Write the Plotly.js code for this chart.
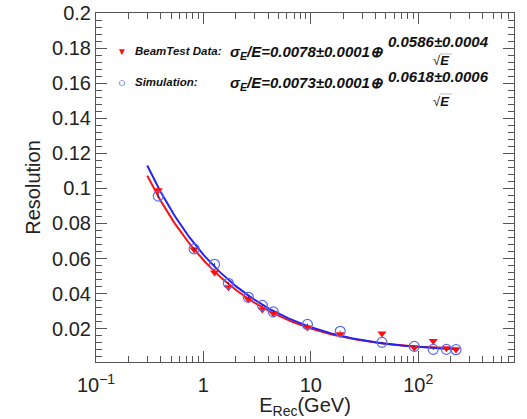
<!DOCTYPE html>
<html>
<head>
<meta charset="utf-8">
<script src="https://cdn.plot.ly/plotly-3.0.1.min.js"></script>
<style>
  html, body { margin: 0; padding: 0; background: #fff; }
  #chart { width: 527px; height: 419px; }
</style>
</head>
<body>
<div id="chart"></div>
<script>
// Beam energies (GeV) of the measured points
const energy = [0.38, 0.82, 1.27, 1.71, 2.62, 3.54, 4.48, 9.3, 18.8, 46, 92, 138, 183, 225];
// Relative energy resolution, beam test
const beamRes = [0.0989, 0.0652, 0.0521, 0.0436, 0.0368, 0.0310, 0.0287, 0.0207, 0.0168, 0.0172, 0.0091, 0.0130, 0.0089, 0.0081];
const beamErr = [0.0012, 0.0009, 0.0008, 0.0007, 0.0006, 0.0006, 0.0005, 0.0004, 0.0004, 0.0004, 0.0003, 0.0003, 0.0003, 0.0003];
// Relative energy resolution, simulation
const simRes = [0.0956, 0.0655, 0.0567, 0.0459, 0.0379, 0.0333, 0.0296, 0.0224, 0.0185, 0.0122, 0.0099, 0.0082, 0.0082, 0.0080];
const simErr = [0.0010, 0.0008, 0.0007, 0.0006, 0.0005, 0.0005, 0.0004, 0.0004, 0.0003, 0.0003, 0.0003, 0.0003, 0.0003, 0.0003];

// Fit parameters: sigma/E = c (+) a/sqrt(E)
const beamFit = { c: 0.0078, cErr: 0.0001, a: 0.0586, aErr: 0.0004 };
const simFit  = { c: 0.0073, cErr: 0.0001, a: 0.0618, aErr: 0.0006 };
const fitRange = [0.3, 240];

// Axis ticks
const xTickVals = [0.1, 1, 10, 100];
const xTickText = ['10<sup>\u22121</sup>', '1', '10', '10<sup>2</sup>'];

const RED = '#ff1010';
const BLUE = '#2424f0';
const FRAME = '#555555';

function fitCurve(p) {
  const xs = [], ys = [];
  const n = 200;
  const l0 = Math.log10(fitRange[0]), l1 = Math.log10(fitRange[1]);
  for (let i = 0; i <= n; i++) {
    const e = Math.pow(10, l0 + (l1 - l0) * i / n);
    xs.push(e);
    ys.push(Math.sqrt(p.c * p.c + p.a * p.a / e));
  }
  return { x: xs, y: ys };
}

const beamCurve = fitCurve(beamFit);
const simCurve = fitCurve(simFit);

const traces = [
  { x: beamCurve.x, y: beamCurve.y, mode: 'lines', line: { color: RED, width: 2 }, hoverinfo: 'skip' },
  { x: simCurve.x, y: simCurve.y, mode: 'lines', line: { color: BLUE, width: 2 }, hoverinfo: 'skip' },
  {
    x: energy, y: beamRes, mode: 'markers',
    error_y: { type: 'data', array: beamErr, color: '#a00000', thickness: 1, width: 0 },
    marker: { symbol: 'triangle-down', size: 8, color: RED }
  },
  {
    x: energy, y: simRes, mode: 'markers',
    error_y: { type: 'data', array: simErr, color: '#1a1a90', thickness: 1, width: 0 },
    marker: { symbol: 'circle-open', size: 10, color: '#5a6af0', line: { width: 1.2 } }
  }
];

// plot frame in pixels
const L = 96, R = 514, T = 13, B = 362;
const px = x => (x - L) / (R - L);
const py = y => (B - y) / (B - T);

const FONT = 'Liberation Sans, Arial, Helvetica, sans-serif';
function bi(s) { return '<b><i>' + s + '</i></b>'; }
function note(text, x, y, size, color, xanchor) {
  return {
    xref: 'paper', yref: 'paper', x: px(x), y: py(y), text: text,
    showarrow: false, xanchor: xanchor || 'left', yanchor: 'middle',
    font: { family: FONT, size: size, color: color || '#111' }
  };
}
function fmt(v) { return v.toFixed(4); }

// legend rows: symbol, label, fitted formula with its fraction
const rows = [
  { y: 51, num: 42, den: 61, symbol: '\u25BC', symColor: RED, symSize: 10, label: 'BeamTest Data:', p: beamFit },
  { y: 82, num: 76, den: 101, symbol: '\u25CB', symColor: BLUE, symSize: 13, label: 'Simulation:', p: simFit }
];

const annotations = [];
const shapes = [];
rows.forEach(r => {
  annotations.push(note(r.symbol, 122, r.y, r.symSize, r.symColor, 'center'));
  annotations.push(note(bi(r.label), 133, r.y, 11.5));
  annotations.push(note(bi('\u03C3<sub>E</sub>/E=' + fmt(r.p.c) + '\u00B1' + fmt(r.p.cErr) + '\u2295'), 228, r.y + 1, 15));
  annotations.push(note(bi(fmt(r.p.a) + '\u00B1' + fmt(r.p.aErr)), 386, r.num, 15));
  annotations.push(note('\u221A' + bi('E'), 441, r.den, 13, '#111', 'center'));
  shapes.push({
    type: 'line', xref: 'paper', yref: 'paper',
    x0: px(440), x1: px(452), y0: py(r.den - 7), y1: py(r.den - 7),
    line: { color: '#bbb', width: 1 }
  });
});

const layout = {
  width: 527, height: 419,
  margin: { l: L, r: 527 - R, t: T, b: 419 - B },
  paper_bgcolor: '#fff', plot_bgcolor: '#fff',
  showlegend: false,
  font: { family: FONT, color: '#222' },
  xaxis: {
    type: 'log', range: [-1, Math.log10(780)],
    showgrid: false, zeroline: false,
    showline: true, linecolor: FRAME, linewidth: 1, mirror: 'allticks',
    ticks: 'inside', ticklen: 11, tickcolor: FRAME, tickwidth: 1,
    tickvals: xTickVals, ticktext: xTickText,
    tickfont: { size: 20, color: '#222' },
    ticklabelstandoff: 5,
    minor: { ticks: 'inside', ticklen: 6, tickcolor: FRAME, dtick: 'D1', showgrid: false },
    title: { text: 'E<sub>Rec</sub>(GeV)', font: { size: 20, color: '#222' }, standoff: 0 }
  },
  yaxis: {
    range: [0.001, 0.2],
    showgrid: false, zeroline: false,
    showline: true, linecolor: FRAME, linewidth: 1, mirror: 'allticks',
    ticks: 'inside', ticklen: 11, tickcolor: FRAME, tickwidth: 1,
    tick0: 0, dtick: 0.02,
    tickfont: { size: 20, color: '#222' },
    minor: { ticks: 'inside', ticklen: 6, tickcolor: FRAME, dtick: 0.004, showgrid: false },
    title: { text: 'Resolution', font: { size: 20, color: '#222' }, standoff: 6 }
  },
  annotations: annotations,
  shapes: shapes
};

Plotly.newPlot('chart', traces, layout, { staticPlot: true, displayModeBar: false });
</script>
</body>
</html>
